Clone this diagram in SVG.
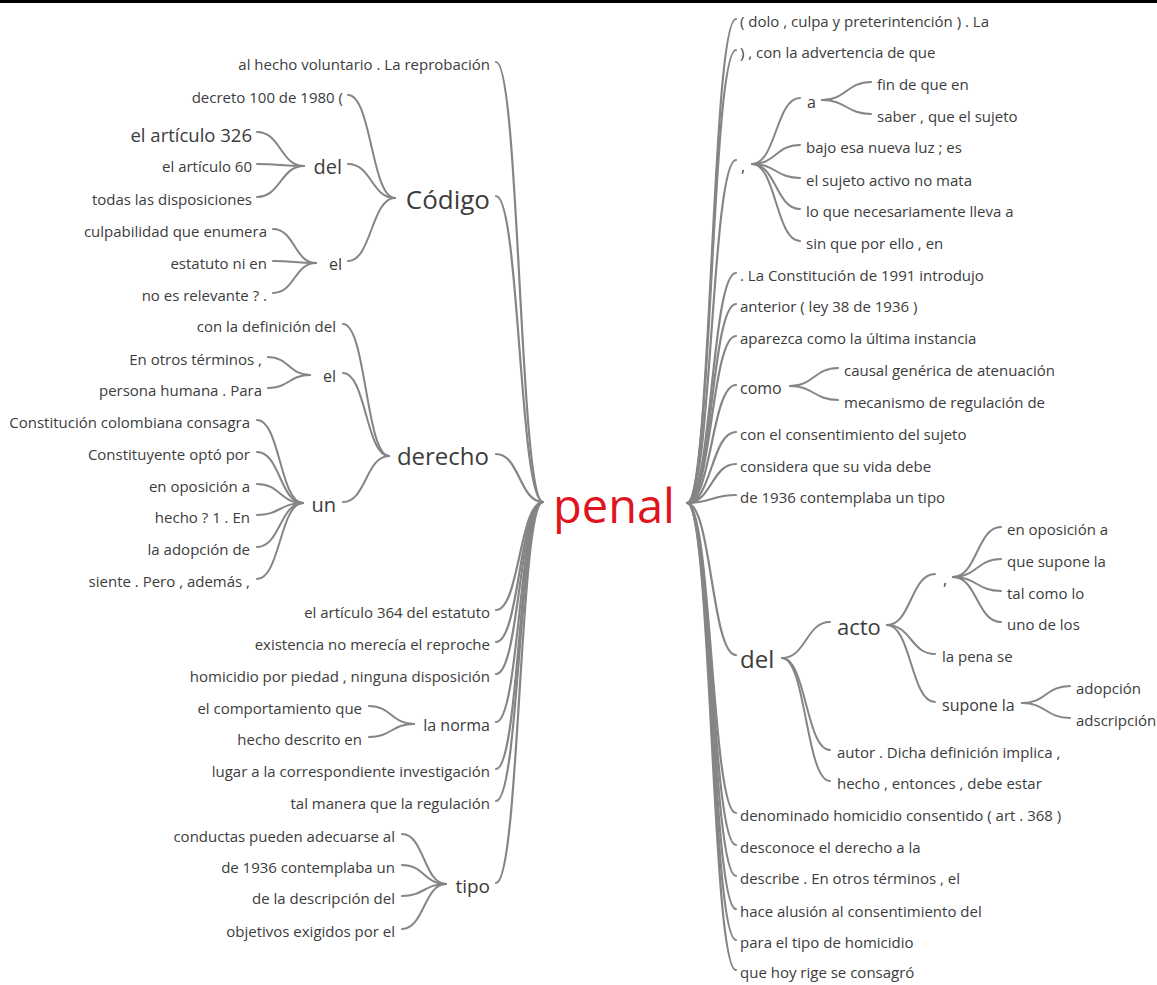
<svg xmlns="http://www.w3.org/2000/svg" width="1157" height="985" viewBox="0 0 1157 985">
<style>
text{font-family:"Open Sans","Noto Sans",sans-serif;fill:#3c3c3c;font-size:15px}
.l{text-anchor:end}
.root{fill:#e0141e;font-size:47px}
.links path{fill:none;stroke:#858585;stroke-width:2;stroke-linecap:round}
.links .r path{stroke-width:2.2}
</style>
<rect x="0" y="0" width="1157" height="3" fill="#000"/>
<g class="links" id="connectors">
<g class="r">
<path d="M543 502C519.5 502 519.5 62 496 62"/>
<path d="M543 502C519.5 502 519.5 196 496 196"/>
<path d="M543 502C519.5 502 519.5 454 496 454"/>
<path d="M543 502C519.5 502 519.5 610 496 610"/>
<path d="M543 502C519.5 502 519.5 642 496 642"/>
<path d="M543 502C519.5 502 519.5 674 496 674"/>
<path d="M543 502C519.5 502 519.5 722 496 722"/>
<path d="M543 502C519.5 502 519.5 769 496 769"/>
<path d="M543 502C519.5 502 519.5 801 496 801"/>
<path d="M543 502C519.5 502 519.5 883 496 883"/>
<path d="M687 503C711.5 503 711.5 19 736 19"/>
<path d="M687 503C711.5 503 711.5 50 736 50"/>
<path d="M687 503C711.5 503 711.5 160 736 160"/>
<path d="M687 503C711.5 503 711.5 273 736 273"/>
<path d="M687 503C711.5 503 711.5 304 736 304"/>
<path d="M687 503C711.5 503 711.5 336 736 336"/>
<path d="M687 503C711.5 503 711.5 385 736 385"/>
<path d="M687 503C711.5 503 711.5 432 736 432"/>
<path d="M687 503C711.5 503 711.5 464 736 464"/>
<path d="M687 503C711.5 503 711.5 495 736 495"/>
<path d="M687 503C711.5 503 711.5 655 736 655"/>
<path d="M687 503C711.5 503 711.5 813 736 813"/>
<path d="M687 503C711.5 503 711.5 845 736 845"/>
<path d="M687 503C711.5 503 711.5 876 736 876"/>
<path d="M687 503C711.5 503 711.5 909 736 909"/>
<path d="M687 503C711.5 503 711.5 940 736 940"/>
<path d="M687 503C711.5 503 711.5 970 736 970"/>
</g>
<path d="M395 198C371.5 198 371.5 95 348 95"/>
<path d="M395 198C371.5 198 371.5 164 348 164"/>
<path d="M395 198C371.5 198 371.5 261 348 261"/>
<path d="M304 166C280.5 166 280.5 132 257 132"/>
<path d="M304 166C280.5 166 280.5 164 257 164"/>
<path d="M304 166C280.5 166 280.5 197 257 197"/>
<path d="M316 263C294.5 263 294.5 229 273 229"/>
<path d="M316 263C294.5 263 294.5 261 273 261"/>
<path d="M316 263C294.5 263 294.5 293 273 293"/>
<path d="M389 456C366 456 366 324 343 324"/>
<path d="M389 456C366 456 366 373 343 373"/>
<path d="M389 456C366 456 366 502 343 502"/>
<path d="M310 375C289 375 289 357 268 357"/>
<path d="M310 375C289 375 289 388 268 388"/>
<path d="M303 503C280 503 280 420 257 420"/>
<path d="M303 503C280 503 280 452 257 452"/>
<path d="M303 503C280 503 280 484 257 484"/>
<path d="M303 503C280 503 280 515 257 515"/>
<path d="M303 503C280 503 280 547 257 547"/>
<path d="M303 503C280 503 280 579 257 579"/>
<path d="M414 724C391.5 724 391.5 706 369 706"/>
<path d="M414 724C391.5 724 391.5 737 369 737"/>
<path d="M446 884C424 884 424 834 402 834"/>
<path d="M446 884C424 884 424 865 402 865"/>
<path d="M446 884C424 884 424 896 402 896"/>
<path d="M446 884C424 884 424 929 402 929"/>
<path d="M752 164C776 164 776 98 800 98"/>
<path d="M752 164C776 164 776 145 800 145"/>
<path d="M752 164C776 164 776 178 800 178"/>
<path d="M752 164C776 164 776 209 800 209"/>
<path d="M752 164C776 164 776 241 800 241"/>
<path d="M822 100C846.5 100 846.5 82 871 82"/>
<path d="M822 100C846.5 100 846.5 114 871 114"/>
<path d="M790 386C814 386 814 368 838 368"/>
<path d="M790 386C814 386 814 400 838 400"/>
<path d="M782 658C806 658 806 622 830 622"/>
<path d="M782 658C806 658 806 750 830 750"/>
<path d="M782 658C806 658 806 781 830 781"/>
<path d="M887 625C911 625 911 574 935 574"/>
<path d="M887 625C911 625 911 654 935 654"/>
<path d="M887 625C911 625 911 702 935 702"/>
<path d="M953 577C977 577 977 527 1001 527"/>
<path d="M953 577C977 577 977 559 1001 559"/>
<path d="M953 577C977 577 977 591 1001 591"/>
<path d="M953 577C977 577 977 622 1001 622"/>
<path d="M1022 703C1046 703 1046 686 1070 686"/>
<path d="M1022 703C1046 703 1046 718 1070 718"/>
</g>
<g id="n-penal"><text class="root" x="553" y="523">penal</text></g>
<g id="n-l1"><text class="l" x="490" y="70">al hecho voluntario . La reprobación</text></g>
<g id="n-codigo"><text class="l" x="490" y="209" style="font-size:26px">Código</text></g>
<g id="n-decreto"><text class="l" x="343" y="103">decreto 100 de 1980 (</text></g>
<g id="n-del-l"><text class="l" x="342" y="174" style="font-size:20px">del</text></g>
<g id="n-art326"><text class="l" x="252" y="141.5" style="font-size:18.5px">el artículo 326</text></g>
<g id="n-art60"><text class="l" x="252" y="172">el artículo 60</text></g>
<g id="n-todas"><text class="l" x="252" y="205">todas las disposiciones</text></g>
<g id="n-el1"><text class="l" x="342" y="269.6" style="font-size:16px">el</text></g>
<g id="n-culp"><text class="l" x="267" y="237">culpabilidad que enumera</text></g>
<g id="n-estatuto"><text class="l" x="267" y="269">estatuto ni en</text></g>
<g id="n-relevante"><text class="l" x="267" y="301">no es relevante ? .</text></g>
<g id="n-derecho"><text class="l" x="489" y="465" style="font-size:24px">derecho</text></g>
<g id="n-definicion"><text class="l" x="336" y="332">con la definición del</text></g>
<g id="n-el2"><text class="l" x="336" y="381.6" style="font-size:16px">el</text></g>
<g id="n-otros"><text class="l" x="262" y="365">En otros términos ,</text></g>
<g id="n-persona"><text class="l" x="262" y="396">persona humana . Para</text></g>
<g id="n-un"><text class="l" x="336" y="512" style="font-size:20px">un</text></g>
<g id="n-constitucion"><text class="l" x="250" y="428">Constitución colombiana consagra</text></g>
<g id="n-constituyente"><text class="l" x="250" y="460">Constituyente optó por</text></g>
<g id="n-oposicion-l"><text class="l" x="250" y="492">en oposición a</text></g>
<g id="n-hecho1"><text class="l" x="250" y="523">hecho ? 1 . En</text></g>
<g id="n-adopcion-l"><text class="l" x="250" y="555">la adopción de</text></g>
<g id="n-siente"><text class="l" x="250" y="587">siente . Pero , además ,</text></g>
<g id="n-art364"><text class="l" x="490" y="618">el artículo 364 del estatuto</text></g>
<g id="n-existencia"><text class="l" x="490" y="650">existencia no merecía el reproche</text></g>
<g id="n-homicidio"><text class="l" x="490" y="682">homicidio por piedad , ninguna disposición</text></g>
<g id="n-norma"><text class="l" x="490" y="730.6" style="font-size:16px">la norma</text></g>
<g id="n-comport"><text class="l" x="362" y="714">el comportamiento que</text></g>
<g id="n-descrito"><text class="l" x="362" y="745">hecho descrito en</text></g>
<g id="n-lugar"><text class="l" x="490" y="777">lugar a la correspondiente investigación</text></g>
<g id="n-manera"><text class="l" x="490" y="809">tal manera que la regulación</text></g>
<g id="n-tipo"><text class="l" x="490" y="892.6" style="font-size:19px">tipo</text></g>
<g id="n-conductas"><text class="l" x="395" y="842">conductas pueden adecuarse al</text></g>
<g id="n-1936un"><text class="l" x="395" y="873">de 1936 contemplaba un</text></g>
<g id="n-descripcion"><text class="l" x="395" y="904">de la descripción del</text></g>
<g id="n-objetivos"><text class="l" x="395" y="937">objetivos exigidos por el</text></g>
<g id="n-dolo"><text x="740" y="27">( dolo , culpa y preterintención ) . La</text></g>
<g id="n-advertencia"><text x="740" y="58">) , con la advertencia de que</text></g>
<g id="n-coma1"><text x="741" y="172" style="font-size:16px">,</text></g>
<g id="n-a"><text x="807" y="107.6" style="font-size:16px">a</text></g>
<g id="n-fin"><text x="877" y="90">fin de que en</text></g>
<g id="n-saber"><text x="877" y="122">saber , que el sujeto</text></g>
<g id="n-bajo"><text x="806" y="153">bajo esa nueva luz ; es</text></g>
<g id="n-sujeto"><text x="806" y="186">el sujeto activo no mata</text></g>
<g id="n-necesariamente"><text x="806" y="217">lo que necesariamente lleva a</text></g>
<g id="n-sinque"><text x="806" y="249">sin que por ello , en</text></g>
<g id="n-const1991"><text x="740" y="281">. La Constitución de 1991 introdujo</text></g>
<g id="n-anterior"><text x="740" y="312">anterior ( ley 38 de 1936 )</text></g>
<g id="n-aparezca"><text x="740" y="344">aparezca como la última instancia</text></g>
<g id="n-como"><text x="740" y="393.6" style="font-size:16px">como</text></g>
<g id="n-causal"><text x="844" y="376">causal genérica de atenuación</text></g>
<g id="n-mecanismo"><text x="844" y="408">mecanismo de regulación de</text></g>
<g id="n-consentimiento"><text x="740" y="440">con el consentimiento del sujeto</text></g>
<g id="n-considera"><text x="740" y="472">considera que su vida debe</text></g>
<g id="n-1936tipo"><text x="740" y="503">de 1936 contemplaba un tipo</text></g>
<g id="n-del-r"><text x="740" y="668" style="font-size:24px">del</text></g>
<g id="n-acto"><text x="837" y="634.7" style="font-size:22px">acto</text></g>
<g id="n-coma2"><text x="943" y="585" style="font-size:16px">,</text></g>
<g id="n-oposicion-r"><text x="1007" y="535">en oposición a</text></g>
<g id="n-supone1"><text x="1007" y="567">que supone la</text></g>
<g id="n-talcomo"><text x="1007" y="599">tal como lo</text></g>
<g id="n-unode"><text x="1007" y="630">uno de los</text></g>
<g id="n-pena"><text x="942" y="662">la pena se</text></g>
<g id="n-supone2"><text x="942" y="710.6" style="font-size:16px">supone la</text></g>
<g id="n-adopcion-r"><text x="1076" y="694">adopción</text></g>
<g id="n-adscripcion"><text x="1076" y="726">adscripción</text></g>
<g id="n-autor"><text x="837" y="758">autor . Dicha definición implica ,</text></g>
<g id="n-entonces"><text x="837" y="789">hecho , entonces , debe estar</text></g>
<g id="n-denominado"><text x="740" y="821">denominado homicidio consentido ( art . 368 )</text></g>
<g id="n-desconoce"><text x="740" y="853">desconoce el derecho a la</text></g>
<g id="n-describe"><text x="740" y="884">describe . En otros términos , el</text></g>
<g id="n-alusion"><text x="740" y="917">hace alusión al consentimiento del</text></g>
<g id="n-paratipo"><text x="740" y="948">para el tipo de homicidio</text></g>
<g id="n-hoyrige"><text x="740" y="978">que hoy rige se consagró</text></g>
</svg>
